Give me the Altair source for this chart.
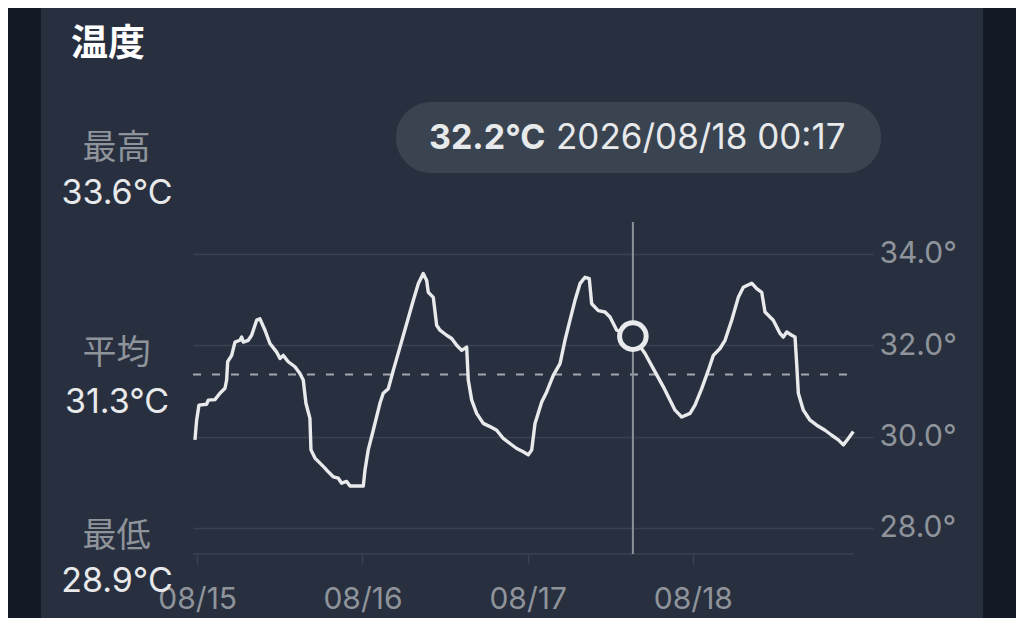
import altair as alt
import pandas as pd

# ---------------- data ----------------
HOURS = [-0.33, -0.09, 0.25, 1.37, 1.60, 2.57, 3.30, 4.03, 4.27, 4.42, 5.00, 5.48, 6.20, 6.45,
         6.68, 7.41, 7.90, 8.63, 9.11, 9.84, 10.56, 11.54, 12.02, 12.49, 13.22, 14.19, 14.92,
         15.40, 15.79, 16.37, 16.52, 17.10, 17.83, 18.55, 19.03, 19.76, 20.49, 20.98, 21.71,
         22.19, 24.12, 24.37, 24.84, 25.57, 26.54, 27.02, 27.75, 28.48, 29.45, 30.42, 31.38,
         32.11, 32.83, 33.33, 33.56, 34.29, 34.78, 35.26, 36.23, 36.96, 37.69, 38.41, 39.14,
         39.37, 39.87, 40.59, 41.55, 42.53, 43.50, 44.46, 45.43, 46.41, 47.36, 48.09, 48.59,
         49.07, 50.04, 50.76, 51.72, 52.70, 53.42, 54.15, 54.87, 55.60, 56.33, 56.95, 57.30,
         58.26, 59.23, 59.96, 60.94, 63.28, 65.05, 66.25, 67.71, 69.41, 70.38, 71.59, 72.31,
         73.28, 74.24, 74.97, 75.94, 76.67, 77.64, 78.60, 79.33, 80.55, 81.27, 82.00, 82.48,
         83.68, 84.66, 85.14, 85.63, 86.36, 86.84, 87.08, 87.32, 88.05, 89.02, 89.99, 91.20,
         92.17, 93.13, 93.86, 94.58, 95.31]
TEMPS = [29.93, 30.36, 30.69, 30.71, 30.80, 30.81, 30.95, 31.06, 31.24, 31.64, 31.78, 32.07, 32.11, 32.18,
         32.07, 32.11, 32.22, 32.55, 32.58, 32.33, 32.04, 31.85, 31.71, 31.78, 31.64, 31.53, 31.38,
         31.24, 30.73, 30.40, 29.71, 29.53, 29.42, 29.31, 29.23, 29.12, 29.09, 28.98, 29.02,
         28.92, 28.92, 29.27, 29.71, 30.14, 30.73, 30.95, 31.05, 31.45, 31.96, 32.47, 32.98,
         33.35, 33.57, 33.42, 33.16, 33.05, 32.44, 32.33, 32.22, 32.15, 32.00, 31.89, 31.96,
         31.24, 30.80, 30.51, 30.29, 30.22, 30.14, 29.96, 29.85, 29.74, 29.67, 29.60, 29.71,
         30.29, 30.76, 30.98, 31.34, 31.60, 32.11, 32.55, 32.98, 33.35, 33.49, 33.46, 32.91,
         32.76, 32.73, 32.62, 32.33, 32.20, 31.82, 31.49, 31.09, 30.58, 30.43, 30.51, 30.69,
         31.05, 31.45, 31.78, 31.93, 32.11, 32.55, 33.05, 33.27, 33.36, 33.24, 33.16, 32.73,
         32.55, 32.26, 32.18, 32.29, 32.22, 32.18, 31.60, 30.95, 30.58, 30.36, 30.25, 30.14,
         30.03, 29.93, 29.82, 29.96, 30.11]

Y_TICKS = [28, 30, 32, 34]
X_TICK_DAYS = [15, 16, 17, 18]
Y_DOMAIN = [27.43, 34.70]
X_DOMAIN_START = "2026-08-14T23:23:00Z"
X_DOMAIN_END = "2026-08-19T02:10:00Z"

TITLE = "温度"
STAT_LABELS = ["最高", "平均", "最低"]
STAT_VALUES = ["33.6°C", "31.3°C", "28.9°C"]
AVG_LINE = 31.36

TIP_TIME = "2026-08-17T15:17:00Z"
TIP_TEMP = 32.2
TIP_VALUE_TEXT = "32.2°C"
TIP_DATE_TEXT = "2026/08/18 00:17"

# ---------------- styling ----------------
CARD = "#283040"
OUTER = "#131a25"
PILL = "#3a4451"
GRID = "#3a4252"
LINE = "#e9eaec"
MUTED = "#8f949b"
BRIGHT = "#e8e9eb"
NUM_FONT = "Inter"
CJK_FONT = "Noto Sans CJK JP"

W, H = 680, 332

base_ts = pd.Timestamp("2026-08-15T00:00:00Z")
times = [(base_ts + pd.Timedelta(hours=h)).strftime("%Y-%m-%dT%H:%M:%SZ") for h in HOURS]
df = pd.DataFrame({"time": times, "temp": TEMPS})

one = pd.DataFrame({"k": [0]})

x_scale = alt.Scale(type="utc", domain=[X_DOMAIN_START, X_DOMAIN_END])
y_scale = alt.Scale(domain=Y_DOMAIN, nice=False, zero=False)

x_axis = alt.Axis(
    values=[alt.DateTime(year=2026, month=8, date=d, utc=True) for d in X_TICK_DAYS],
    labelExpr="utcFormat(datum.value, '%m/%d')",
    domain=False, grid=False, ticks=True, tickSize=10, tickColor=GRID, tickWidth=1.5,
    labelFontSize=30, labelColor=MUTED, labelFont=NUM_FONT, labelPadding=20,
    labelFontWeight="normal", title=None,
)
y_axis = alt.Axis(
    orient="right", values=Y_TICKS,
    labelExpr="format(datum.value, '.1f') + '°'",
    domain=False, ticks=False, grid=True, gridColor=GRID, gridWidth=1.5,
    labelFontSize=30, labelColor=MUTED, labelFont=NUM_FONT, labelPadding=6,
    labelBaseline="middle", title=None,
)

# outer dark strips (page background outside the card)
strips = alt.Chart(pd.DataFrame({"x": [-185, 790], "x2": [-152, 823]})).mark_rect(
    color=OUTER
).encode(
    x=alt.X("x:Q", scale=None), x2="x2:Q",
    y=alt.value(-214), y2=alt.value(396),
)

# baseline of the x axis (only under the data span)
base_df = pd.DataFrame({"s": [X_DOMAIN_START], "e": [times[-1]]})
baseline = alt.Chart(base_df).mark_rule(color=GRID, strokeWidth=1.5).encode(
    x=alt.X("s:T", scale=x_scale, axis=x_axis), x2="e:T", y=alt.value(H)
)

avg_df = pd.DataFrame({"s": [X_DOMAIN_START], "e": [times[-1]], "avg": [AVG_LINE]})
avg_rule = alt.Chart(avg_df).mark_rule(
    color="#a3a7ad", strokeWidth=2, strokeDash=[8, 11]
).encode(
    x=alt.X("s:T", scale=x_scale, axis=x_axis), x2="e:T",
    y=alt.Y("avg:Q", scale=y_scale, axis=y_axis),
)

tip_df = pd.DataFrame({"time": [TIP_TIME], "temp": [TIP_TEMP]})
vrule = alt.Chart(tip_df).mark_rule(color="#8e939a", strokeWidth=2).encode(
    x=alt.X("time:T", scale=x_scale, axis=x_axis), y=alt.value(0), y2=alt.value(H)
)

line = alt.Chart(df).mark_line(color=LINE, strokeWidth=3.4, strokeJoin="round").encode(
    x=alt.X("time:T", scale=x_scale, axis=x_axis),
    y=alt.Y("temp:Q", scale=y_scale, axis=y_axis),
)

point = alt.Chart(tip_df).mark_point(
    shape="circle", size=707, filled=True, fill=CARD, stroke=LINE, strokeWidth=5, opacity=1
).encode(
    x=alt.X("time:T", scale=x_scale, axis=x_axis),
    y=alt.Y("temp:Q", scale=y_scale, axis=y_axis),
)

pill = alt.Chart(one).mark_rect(color=PILL, cornerRadius=35).encode(
    x=alt.value(203), x2=alt.value(688), y=alt.value(-120), y2=alt.value(-49)
)
pill_val = alt.Chart(one).mark_text(
    text=TIP_VALUE_TEXT, font=NUM_FONT, fontSize=34, fontWeight="bold", color=BRIGHT,
    align="left", baseline="alphabetic"
).encode(x=alt.value(236), y=alt.value(-73))
pill_date = alt.Chart(one).mark_text(
    text=TIP_DATE_TEXT, font=NUM_FONT, fontSize=35, color=BRIGHT,
    align="left", baseline="alphabetic"
).encode(x=alt.value(363), y=alt.value(-73))

title = alt.Chart(one).mark_text(
    text=TITLE, font=CJK_FONT, fontSize=37, fontWeight="bold", color="#ffffff",
    align="left", baseline="alphabetic"
).encode(x=alt.value(-122), y=alt.value(-166))

stat_lbl_df = pd.DataFrame({"t": STAT_LABELS, "y": [-62.7, 142.3, 325.3]})
stat_val_df = pd.DataFrame({"t": STAT_VALUES, "y": [-18, 191, 370]})
stat_lbl = alt.Chart(stat_lbl_df).mark_text(
    font=CJK_FONT, fontSize=34, color=MUTED, align="center", baseline="alphabetic"
).encode(x=alt.value(-76.5), y=alt.Y("y:Q", scale=None), text="t:N")
stat_val = alt.Chart(stat_val_df).mark_text(
    font=NUM_FONT, fontSize=34, color=BRIGHT, align="center", baseline="alphabetic"
).encode(x=alt.value(-76), y=alt.Y("y:Q", scale=None), text="t:N")

chart = alt.layer(
    strips, baseline, avg_rule, vrule, line, point, pill, pill_val, pill_date,
    title, stat_lbl, stat_val
).resolve_scale(x="shared", y="shared").properties(
    width=W, height=H,
    padding={"left": 185, "top": 214, "right": 143, "bottom": 64},
    autosize=alt.AutoSizeParams(type="none"),
    background=CARD,
).configure_view(stroke=None)

chart.save("out.html", embed_options={"renderer": "svg", "actions": False})
